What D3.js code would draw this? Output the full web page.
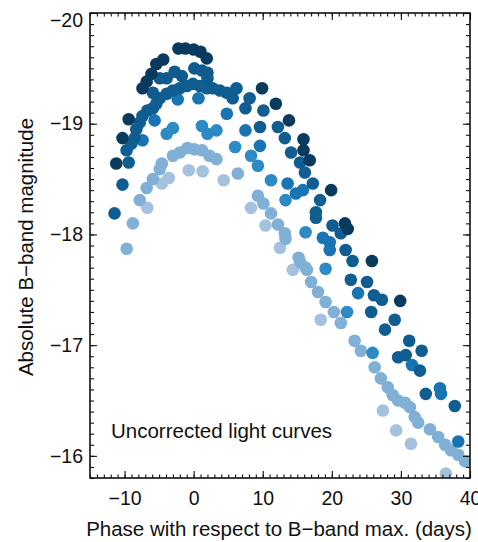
<!DOCTYPE html>
<html>
<head>
<meta charset="utf-8">
<script src="https://cdn.jsdelivr.net/npm/d3@7"></script>
<style>
  html, body { margin: 0; padding: 0; background: #fff; }
  svg { display: block; font-family: "Liberation Sans", Arial, Helvetica, sans-serif; }
</style>
</head>
<body>
<svg id="chart" width="478" height="542"></svg>
<script>
// Light curves of several supernovae: [phase (days), absolute B magnitude]
const snNavy = [
  [-11.2,-18.64],[-10.3,-18.87],[-9.4,-19.04],[-7.4,-19.32],[-6.8,-19.38],[-6.1,-19.45],
  [-5.4,-19.54],[-4.4,-19.58],[-2.2,-19.68],[-1.2,-19.68],[0.0,-19.67],[1.0,-19.65],
  [1.9,-19.59],[9.9,-19.32],[11.9,-19.18],[13.8,-19.03],[15.9,-18.86],[15.9,-18.76],
  [16.8,-18.67],[19.9,-18.40],[21.9,-18.10],[22.3,-18.05],[25.8,-17.76],[29.9,-17.40]
];
const snDark = [
  [-11.45,-18.19],[-10.3,-18.45],[-9.4,-18.65],[-9.7,-18.76],[-9.0,-18.82],[-8.55,-18.87],
  [-8.3,-18.95],[-7.8,-19.01],[-7.4,-19.07],[-6.7,-19.12],[-5.9,-19.14],[-5.4,-19.18],
  [-4.9,-19.23],[-3.9,-19.27],[-3.0,-19.30],[-2.0,-19.32],[-1.0,-19.34],[-0.1,-19.36],
  [0.9,-19.34],[1.9,-19.32],[2.75,-19.32],[3.8,-19.30],[4.8,-19.28],[5.65,-19.23],
  [6.2,-19.32],[8.1,-19.23],[7.5,-19.14],[10.1,-19.12],[9.6,-18.97],[12.2,-18.97],
  [13.2,-18.87],[14.1,-18.74],[15.4,-18.65],[16.1,-18.56],[17.25,-18.46],[18.3,-18.31],
  [17.7,-18.20],[17.7,-18.15],[20.1,-18.08],[21.3,-18.01],[22.0,-17.86],[23.0,-17.76],
  [22.75,-17.59],[25.1,-17.57],[26.1,-17.45],[27.25,-17.41],[25.7,-17.30],[29.1,-17.23],
  [27.7,-17.14],[31.2,-17.04],[33.0,-16.95],[29.6,-16.89],[30.7,-16.91],[32.75,-16.77],
  [33.6,-16.56],[37.8,-16.45]
];
const snDark2 = [
  [-5.9,-19.28],[-4.9,-19.41],[-3.9,-19.41],[-2.75,-19.47],[-1.7,-19.43],
  [0.1,-19.50],[1.2,-19.48],[2.0,-19.46],[2.0,-19.41]
];
const snMid = [
  [-7.4,-18.85],[-5.65,-19.03],[-2.3,-19.22],[0.7,-19.23],[4.8,-19.09],[7.5,-18.94],
  [9.6,-18.80],[13.6,-18.46],[14.8,-18.37],[15.8,-18.40],[18.7,-17.97],[19.7,-17.93],
  [19.7,-17.86],[23.8,-17.47],[31.6,-16.82],[35.65,-16.61],[35.8,-16.56],[38.3,-16.13]
];
const snMidLight = [
  [-3.9,-18.91],[-3.0,-18.96],[1.2,-18.98],[2.0,-18.91],[3.3,-18.94],[6.0,-18.79],
  [8.3,-18.71],[9.3,-18.62],[11.2,-18.49],[13.3,-18.31],[16.2,-18.02],[19.1,-17.69],
  [22.2,-17.30],[25.9,-16.93]
];
const snLight = [
  [-9.7,-17.87],[-8.8,-18.10],[-7.8,-18.31],[-6.8,-18.42],[-5.9,-18.50],[-4.9,-18.59],
  [-4.6,-18.64],[-3.0,-18.71],[-2.0,-18.74],[-0.9,-18.78],[0.1,-18.77],[1.2,-18.76],
  [2.3,-18.71],[3.3,-18.68],[6.4,-18.55],[9.3,-18.35],[10.1,-18.28],[11.2,-18.19],
  [12.2,-18.09],[13.2,-18.01],[13.3,-17.96],[15.2,-17.79],[15.4,-17.75],[16.2,-17.70],
  [16.4,-17.68],[17.0,-17.57],[18.0,-17.48],[19.1,-17.39],[20.3,-17.30],[21.3,-17.20],
  [23.3,-17.04],[24.2,-16.95],[26.2,-16.80],[27.1,-16.70],[28.1,-16.62],[28.8,-16.55],
  [29.6,-16.50],[30.6,-16.48],[31.3,-16.44],[32.0,-16.35],[32.5,-16.30],[34.2,-16.24],
  [35.4,-16.17],[36.4,-16.10],[37.25,-16.05],[38.3,-16.01],[39.3,-15.95]
];
const snLightest = [
  [-6.7,-18.24],[-4.6,-18.46],[-3.6,-18.51],[-0.7,-18.58],[1.3,-18.57],[4.35,-18.49],
  [8.3,-18.24],[10.4,-18.08],[12.5,-17.88],[14.35,-17.68],[18.4,-17.23],[27.4,-16.41],
  [29.3,-16.23],[31.45,-16.11],[36.5,-15.84]
];

const xTicks = [-10, 0, 10, 20, 30, 40];
const yTicks = [-20, -19, -18, -17, -16];
const xTitle = "Phase with respect to B\u2212band max. (days)";
const yTitle = "Absolute B\u2212band magnitude";
const note = "Uncorrected light curves";

// Drawing order: faintest curve first, darkest on top
const series = [
  { data: snLightest, color: "#a4c1de" },
  { data: snLight,    color: "#80b0d6" },
  { data: snMidLight, color: "#2c8bc4" },
  { data: snMid,      color: "#1874b3" },
  { data: snDark,     color: "#0f5d91" },
  { data: snDark2,    color: "#0f5b8d" },
  { data: snNavy,     color: "#0a3b5e" }
];

const svg = d3.select("#chart");
const L = 90, R = 470, T = 13, B = 478;

const x = d3.scaleLinear().domain([-15, 40]).range([L, R]);
const y = d3.scaleLinear().domain([-20, -15.8]).range([T, B]);

const clipId = "plotclip";
svg.append("clipPath").attr("id", clipId)
  .append("rect").attr("x", L).attr("y", T).attr("width", R - L).attr("height", B - T);

const pts = svg.append("g").attr("clip-path", `url(#${clipId})`);
series.forEach(s => {
  pts.selectAll(null).data(s.data).enter().append("circle")
    .attr("cx", d => x(d[0]))
    .attr("cy", d => y(d[1]))
    .attr("r", 6.3)
    .attr("fill", s.color);
});

// Axes: major and minor ticks pointing inward on all four sides
const minorX = d3.range(-15, 40.01, 1);
const minorY = d3.range(-20, -15.79, 0.1);
const fmt = v => (v < 0 ? "\u2212" + Math.abs(v) : String(v));

const axB = d3.axisBottom(x).tickValues(xTicks).tickSize(-7).tickPadding(13).tickFormat(fmt);
const axBm = d3.axisBottom(x).tickValues(minorX).tickSize(-3.5).tickFormat("");
const axT = d3.axisTop(x).tickValues(xTicks).tickSize(-7).tickFormat("");
const axTm = d3.axisTop(x).tickValues(minorX).tickSize(-3.5).tickFormat("");
const axL = d3.axisLeft(y).tickValues(yTicks).tickSize(-7).tickPadding(7).tickFormat(fmt);
const axLm = d3.axisLeft(y).tickValues(minorY).tickSize(-4).tickFormat("");
const axR = d3.axisRight(y).tickValues(yTicks).tickSize(-7).tickFormat("");
const axRm = d3.axisRight(y).tickValues(minorY).tickSize(-4).tickFormat("");

function styleAxis(g) {
  g.select(".domain").remove();
  g.selectAll(".tick line").attr("stroke", "#111").attr("stroke-width", 1.1);
  g.selectAll(".tick text").attr("fill", "#111").style("font-size", "19.5px");
}

svg.append("g").attr("transform", `translate(0,${B})`).call(axBm).call(styleAxis);
svg.append("g").attr("transform", `translate(0,${B})`).call(axB).call(styleAxis);
svg.append("g").attr("transform", `translate(0,${T})`).call(axTm).call(styleAxis);
svg.append("g").attr("transform", `translate(0,${T})`).call(axT).call(styleAxis);
svg.append("g").attr("transform", `translate(${L},0)`).call(axLm).call(styleAxis);
const gL = svg.append("g").attr("transform", `translate(${L},0)`).call(axL).call(styleAxis);
svg.append("g").attr("transform", `translate(${R},0)`).call(axRm).call(styleAxis);
svg.append("g").attr("transform", `translate(${R},0)`).call(axR).call(styleAxis);

// keep the top label inside the figure
gL.selectAll(".tick").filter(d => d === -20).select("text").attr("y", 7);

// frame
svg.append("rect").attr("x", L).attr("y", T).attr("width", R - L).attr("height", B - T)
  .attr("fill", "none").attr("stroke", "#111").attr("stroke-width", 1.6);

// titles
svg.append("text").attr("x", 279).attr("y", 536)
  .attr("text-anchor", "middle").style("font-size", "20.5px").attr("fill", "#111").text(xTitle);
svg.append("text").attr("transform", `translate(33,${247}) rotate(-90)`)
  .attr("text-anchor", "middle").style("font-size", "20.5px").attr("fill", "#111").text(yTitle);

svg.append("text").attr("x", 111).attr("y", 438)
  .style("font-size", "20.5px").attr("fill", "#111").text(note);
</script>
</body>
</html>
